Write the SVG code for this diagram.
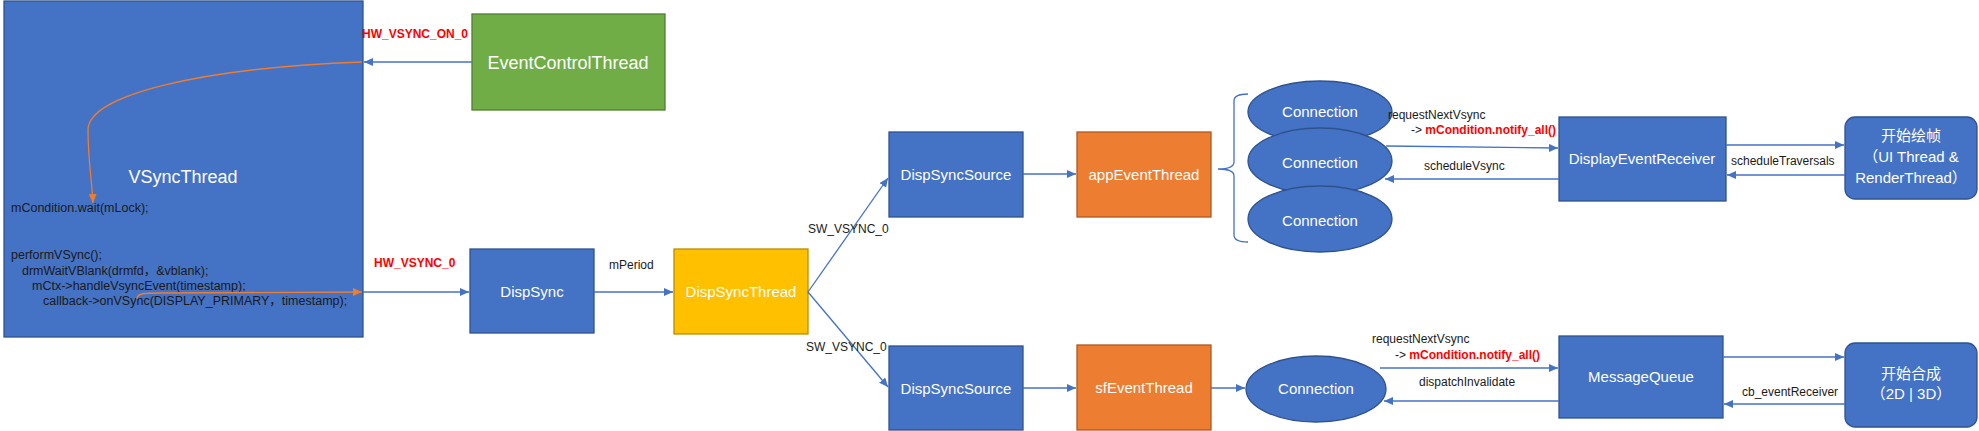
<svg xmlns="http://www.w3.org/2000/svg" width="1979" height="431" viewBox="0 0 1979 431">
<style>
text{font-family:"Liberation Sans","Noto Sans CJK SC",sans-serif}
.bb{fill:#4472C4;stroke:#2F528F;stroke-width:1.3}
.ob{fill:#ED7D31;stroke:#AE5A21;stroke-width:1.3}
.yb{fill:#FFC000;stroke:#BC8C00;stroke-width:1.3}
.gb{fill:#70AD47;stroke:#507E32;stroke-width:1.3}
.lbl{fill:#fff;font-size:15px;text-anchor:middle}
.big{fill:#fff;font-size:18px;text-anchor:middle}
.code{fill:#1a1a1a;font-size:12.5px}
.t{fill:#1a1a1a;font-size:12px}
.r{fill:#FF0000;font-size:12px;font-weight:bold}
.ln{stroke:#4472C4;stroke-width:1.3;fill:none;marker-end:url(#ah)}
.or{stroke:#ED7D31;stroke-width:1.3;fill:none;marker-end:url(#oh)}
</style>
<defs>
<marker id="ah" markerUnits="userSpaceOnUse" markerWidth="10" markerHeight="8" refX="9" refY="4" orient="auto"><path d="M0,0 L9,4 L0,8 z" fill="#4472C4"/></marker>
<marker id="oh" markerUnits="userSpaceOnUse" markerWidth="10" markerHeight="8" refX="9" refY="4" orient="auto"><path d="M0,0 L9,4 L0,8 z" fill="#ED7D31"/></marker>
</defs>
<rect width="1979" height="431" fill="#fff"/>

<g id="VSyncThread">
<rect class="bb" x="4" y="1" width="359" height="336"/>
<text class="big" x="183" y="183">VSyncThread</text>
<text class="code" x="11" y="212">mCondition.wait(mLock);</text>
<text class="code" x="11" y="259">performVSync();</text>
<text class="code" x="22" y="275">drmWaitVBlank(drmfd，&amp;vblank);</text>
<text class="code" x="32" y="290">mCtx-&gt;handleVsyncEvent(timestamp);</text>
<text class="code" x="43" y="305">callback-&gt;onVSync(DISPLAY_PRIMARY，timestamp);</text>
</g>

<g id="EventControlThread">
<rect class="gb" x="472" y="14" width="193" height="96"/>
<text class="big" x="568" y="69">EventControlThread</text>
</g>

<g id="DispSync">
<rect class="bb" x="470" y="249" width="124" height="84"/>
<text class="lbl" x="532" y="297">DispSync</text>
</g>

<g id="DispSyncThread">
<rect class="yb" x="674" y="249" width="134" height="85"/>
<text class="lbl" x="741" y="297">DispSyncThread</text>
</g>

<g id="DispSyncSource1">
<rect class="bb" x="889" y="132" width="134" height="85"/>
<text class="lbl" x="956" y="180">DispSyncSource</text>
</g>

<g id="appEventThread">
<rect class="ob" x="1077" y="132" width="134" height="85"/>
<text class="lbl" x="1144" y="180">appEventThread</text>
</g>

<g id="DispSyncSource2">
<rect class="bb" x="889" y="346" width="134" height="84"/>
<text class="lbl" x="956" y="394">DispSyncSource</text>
</g>

<g id="sfEventThread">
<rect class="ob" x="1077" y="345" width="134" height="85"/>
<text class="lbl" x="1144" y="393">sfEventThread</text>
</g>

<g id="Brace">
<path d="M1248,94 Q1234,94 1234,101 L1234,162 Q1234,169 1218,169 Q1234,169 1234,176 L1234,235 Q1234,242 1248,242" fill="none" stroke="#4472C4" stroke-width="1.3"/>
</g>

<g id="Connection1">
<ellipse class="bb" cx="1320" cy="112" rx="72" ry="31"/>
<text class="lbl" x="1320" y="117">Connection</text>
</g>
<g id="Connection2">
<ellipse class="bb" cx="1320" cy="161" rx="72" ry="33"/>
<text class="lbl" x="1320" y="168">Connection</text>
</g>
<g id="Connection3">
<ellipse class="bb" cx="1320" cy="219" rx="72" ry="33"/>
<text class="lbl" x="1320" y="226">Connection</text>
</g>

<g id="DisplayEventReceiver">
<rect class="bb" x="1559" y="117" width="167" height="84"/>
<text class="lbl" x="1642" y="164">DisplayEventReceiver</text>
</g>

<g id="StartDraw">
<rect class="bb" x="1845" y="117" width="132" height="82" rx="10"/>
<text class="lbl" x="1911" y="141">开始绘帧</text>
<text class="lbl" x="1911" y="162">（UI Thread &amp;</text>
<text class="lbl" x="1911" y="183">RenderThread）</text>
</g>

<g id="Connection4">
<ellipse class="bb" cx="1316" cy="389" rx="70" ry="33"/>
<text class="lbl" x="1316" y="394">Connection</text>
</g>

<g id="MessageQueue">
<rect class="bb" x="1559" y="336" width="164" height="82"/>
<text class="lbl" x="1641" y="382">MessageQueue</text>
</g>

<g id="StartCompose">
<rect class="bb" x="1845" y="343" width="132" height="84" rx="10"/>
<text class="lbl" x="1911" y="379">开始合成</text>
<text class="lbl" x="1911" y="399">（2D | 3D）</text>
</g>

<g id="connectors">
<path class="or" d="M362,62 C200,68 88,95 88,130 C88,160 92,182 93,203"/>
<path class="or" d="M137,299 C137,293 145,293 160,293 L362,292"/>
<path class="ln" d="M472,62 L364,62"/>
<path class="ln" d="M363,292 L469,292"/>
<path class="ln" d="M594,292 L673,292"/>
<path class="ln" d="M808,292 L888,178"/>
<path class="ln" d="M808,292 L888,387"/>
<path class="ln" d="M1023,174 L1076,174"/>
<path class="ln" d="M1023,388 L1076,388"/>
<path class="ln" d="M1211,388 L1245,388"/>
<path class="ln" d="M1386,146 L1558,148"/>
<path class="ln" d="M1559,179 L1385,179"/>
<path class="ln" d="M1726,145 L1844,145"/>
<path class="ln" d="M1845,175 L1727,175"/>
<path class="ln" d="M1380,368 L1558,368"/>
<path class="ln" d="M1559,401 L1384,401"/>
<path class="ln" d="M1723,357 L1844,357"/>
<path class="ln" d="M1845,404 L1724,404"/>
</g>

<g id="labels">
<text class="r" x="362" y="38">HW_VSYNC_ON_0</text>
<text class="r" x="374" y="267">HW_VSYNC_0</text>
<text class="t" x="609" y="269">mPeriod</text>
<text class="t" x="808" y="233" font-size="11.5">SW_VSYNC_0</text>
<text class="t" x="806" y="351" font-size="11.5">SW_VSYNC_0</text>
<text class="t" x="1388" y="119">requestNextVsync</text>
<text class="t" x="1411" y="134">-&gt; <tspan class="r">mCondition.notify_all()</tspan></text>
<text class="t" x="1424" y="170">scheduleVsync</text>
<text class="t" x="1731" y="165">scheduleTraversals</text>
<text class="t" x="1372" y="343">requestNextVsync</text>
<text class="t" x="1395" y="359">-&gt; <tspan class="r">mCondition.notify_all()</tspan></text>
<text class="t" x="1419" y="386">dispatchInvalidate</text>
<text class="t" x="1742" y="396">cb_eventReceiver</text>
</g>
</svg>
